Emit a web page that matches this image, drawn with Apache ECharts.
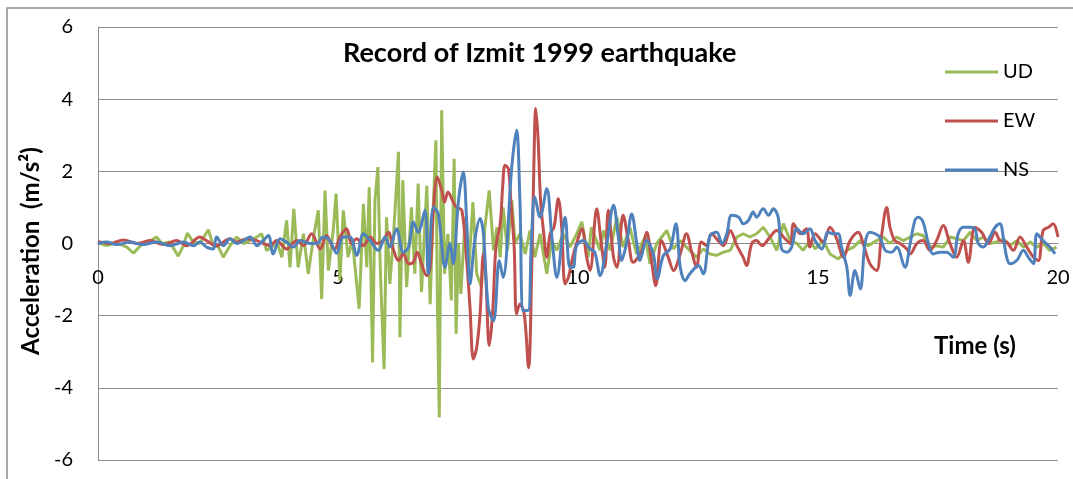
<!DOCTYPE html>
<html>
<head>
<meta charset="utf-8">
<script src="https://cdn.jsdelivr.net/npm/echarts@6/dist/echarts.min.js"></script>
<style>
  html, body { margin: 0; padding: 0; background: #fff; }
  #chart { width: 1073px; height: 479px; }
</style>
</head>
<body>
<div id="chart"></div>
<script>
// Izmit 1999 ground acceleration, three components: [time (s), acceleration (m/s²)]
const seriesNames = ['UD', 'EW', 'NS'];
const seriesColors = ['#9bbb59', '#c0504d', '#4f81bd'];

const udTrace = [
  [0,0.02],[0.18,-0.06],[0.39,0.02],[0.6,-0.1],[0.74,-0.27],[0.88,-0.06],[1.05,0.04],[1.22,0.18],
  [1.33,0],[1.5,0.04],[1.67,-0.35],[1.78,-0.06],[1.86,0.29],[1.99,0.04],[2.12,0],[2.3,0.38],
  [2.4,-0.06],[2.51,-0.1],[2.61,-0.38],[2.75,-0.06],[2.89,0.18],[3.03,0],[3.17,0.08],[3.31,0.18],
  [3.41,0.27],[3.51,-0.19],[3.62,-0.1],[3.72,0.08],[3.83,-0.38],[3.93,0.64],[4.0,-0.66],[4.08,0.96],
  [4.17,-0.66],[4.28,0.27],[4.38,-0.84],[4.49,0.17],[4.59,0.92],[4.66,-1.54],[4.73,1.47],[4.8,-0.75],
  [4.9,0.36],[4.96,1.38],[5.04,-1.03],[5.11,0.92],[5.21,-0.38],[5.3,0.1],[5.44,-1.81],[5.53,1.1],
  [5.6,-0.66],[5.65,1.56],[5.72,-3.3],[5.77,1.19],[5.83,2.12],[5.88,-0.66],[5.96,-3.48],[6.01,0.73],
  [6.08,-1.12],[6.15,0.08],[6.26,2.54],[6.29,-2.6],[6.35,1.75],[6.43,-1.21],[6.53,1.0],[6.6,-0.84],
  [6.67,1.66],[6.74,-1.35],[6.85,1.6],[6.92,-1.68],[6.99,1.2],[7.04,2.86],[7.07,-1.58],[7.11,-4.82],
  [7.16,3.69],[7.22,-0.84],[7.29,0.27],[7.36,-1.58],[7.42,2.35],[7.46,-2.5],[7.51,0],[7.56,-1.4],
  [7.65,0.73],[7.72,-0.84],[7.81,1.15],[7.89,-0.84],[7.99,-1.21],[8.06,0.45],[8.15,1.47],[8.24,-0.19],
  [8.31,0.45],[8.38,-0.38],[8.44,1.0],[8.53,-0.19],[8.62,1.2],[8.69,0],[8.79,0.27],[8.9,-0.29],
  [9.0,0.36],[9.1,-0.38],[9.21,0.27],[9.35,-0.84],[9.45,0.08],[9.56,-0.19],[9.69,0.27],[9.83,-0.1],
  [9.95,0.2],[10.08,0.6],[10.21,-0.38],[10.28,0.45],[10.46,-0.19],[10.53,0.36],[10.67,-0.19],
  [10.81,0.73],[10.94,-0.1],[11.08,0.45],[11.22,-0.29],[11.4,0.18],[11.5,-0.56],[11.64,0],[11.85,0.36],
  [11.99,-0.15],[12.13,0.08],[12.26,-0.1],[12.47,-0.38],[12.61,-0.15],[12.75,-0.29],[12.89,-0.33],
  [13.03,-0.24],[13.17,-0.19],[13.31,0.18],[13.44,0.27],[13.58,0.18],[13.72,0.27],[13.86,0.45],
  [14.0,0.18],[14.14,-0.19],[14.28,0.55],[14.42,0.08],[14.56,0],[14.69,-0.19],[14.83,0.08],
  [14.94,-0.15],[15.11,0.08],[15.25,-0.29],[15.42,-0.43],[15.6,-0.19],[15.74,-0.1],[15.88,0.08],
  [16.05,-0.06],[16.22,0.08],[16.36,0.18],[16.5,0],[16.64,0.18],[16.78,0.08],[16.92,0.18],[17.06,0.27],
  [17.19,0.22],[17.33,-0.1],[17.47,-0.06],[17.61,-0.1],[17.75,0.18],[17.89,0.13],[18.03,0.08],
  [18.17,0.31],[18.31,0.08],[18.44,0.18],[18.58,0],[18.72,0.04],[18.86,0.13],[19.0,-0.06],[19.14,0.08],
  [19.28,-0.1],[19.42,0.04],[19.56,-0.1],[19.69,0],[19.83,-0.19],[19.97,-0.1]
];

const ewTrace = [
  [0,0.06],[0.25,0],[0.53,0.1],[0.81,0],[1.08,0.08],[1.36,-0.03],[1.64,0.08],[1.85,-0.06],
  [2.12,0.18],[2.26,0.08],[2.47,-0.06],[2.75,0.13],[2.89,0.04],[3.1,0.13],[3.31,0.08],[3.58,-0.06],
  [3.72,0.08],[3.93,-0.15],[4.14,0.08],[4.28,-0.06],[4.45,0.27],[4.63,-0.15],[4.76,0.22],[4.93,-0.17],
  [5.04,0.18],[5.18,0.41],[5.28,0],[5.39,0.13],[5.53,-0.06],[5.67,0.18],[5.81,0],[5.94,0.08],
  [6.05,0.31],[6.15,-0.15],[6.26,-0.47],[6.36,-0.29],[6.47,-0.56],[6.57,-0.52],[6.65,-0.24],
  [6.74,-0.56],[6.85,-0.89],[6.92,-0.66],[6.99,1.0],[7.07,1.84],[7.16,1.47],[7.22,1.15],[7.29,1.43],
  [7.4,1.15],[7.47,1.0],[7.58,0.92],[7.68,-0.47],[7.75,-1.77],[7.82,-3.2],[7.89,-2.88],[7.96,-1.95],
  [8.03,-0.29],[8.08,-0.94],[8.15,-2.83],[8.22,-1.95],[8.29,-0.1],[8.38,0.55],[8.43,1.56],[8.48,2.17],
  [8.55,2.07],[8.6,1.19],[8.67,-0.1],[8.72,-1.95],[8.79,-1.68],[8.88,-1.95],[8.97,-3.44],[9.03,-1.12],
  [9.08,2.12],[9.12,3.74],[9.17,2.86],[9.22,1.19],[9.28,0.36],[9.35,-0.38],[9.42,0.27],[9.5,0.45],
  [9.59,1.24],[9.66,0.45],[9.73,-1.12],[9.8,-0.94],[9.89,-0.38],[9.97,0],[10.08,0.41],[10.18,-0.38],
  [10.25,-0.75],[10.39,0.96],[10.49,-0.06],[10.56,-0.66],[10.63,0.92],[10.74,-0.38],[10.81,-0.66],
  [10.94,0.78],[11.05,0.08],[11.15,-0.52],[11.33,-0.19],[11.43,0.31],[11.53,-0.47],[11.62,-1.17],
  [11.74,0.08],[11.88,-0.38],[11.99,-0.75],[12.13,-0.29],[12.26,0.27],[12.37,-0.24],[12.47,-0.66],
  [12.57,0.04],[12.68,-0.06],[12.78,0.27],[12.92,0.08],[13.03,-0.06],[13.17,0.36],[13.31,-0.06],
  [13.44,-0.38],[13.51,-0.61],[13.62,0],[13.72,0.08],[13.83,-0.06],[14.0,0.18],[14.14,0.36],
  [14.28,0.18],[14.42,0],[14.49,0.55],[14.63,0.27],[14.76,0.41],[14.83,-0.1],[14.94,0.27],
  [15.11,0.04],[15.25,0.45],[15.39,0.13],[15.53,-0.38],[15.67,0.08],[15.84,0.31],[15.94,0],
  [16.08,-0.56],[16.22,-0.75],[16.32,0.18],[16.43,1.0],[16.5,0.45],[16.6,0.08],[16.71,0],
  [16.85,-0.15],[16.92,-0.29],[17.06,0],[17.19,0.08],[17.33,-0.19],[17.47,0.08],[17.61,0.5],
  [17.75,0],[17.89,-0.38],[18.03,0.08],[18.13,-0.52],[18.27,0.45],[18.41,0.31],[18.55,0],
  [18.69,0.31],[18.79,0.08],[18.93,0.04],[19.07,-0.19],[19.21,0.18],[19.35,-0.1],[19.49,-0.38],
  [19.59,-0.47],[19.69,0.36],[19.8,0.45],[19.9,0.55],[20.0,0.18]
];

const nsTrace = [
  [0,0],[0.18,0.04],[0.39,-0.03],[0.67,0.04],[0.94,-0.03],[1.22,0.04],[1.5,-0.06],[1.78,0.04],
  [1.99,-0.06],[2.12,0.04],[2.26,-0.1],[2.4,-0.15],[2.47,0.18],[2.61,-0.06],[2.75,0.13],[2.89,0],
  [3.03,0.08],[3.17,0.18],[3.31,-0.06],[3.44,0.08],[3.55,0.22],[3.65,-0.29],[3.79,0.13],[3.93,0.04],
  [4.07,-0.1],[4.21,0.08],[4.42,0],[4.56,0],[4.69,0.18],[4.83,0.08],[4.97,-0.27],[5.11,0.18],
  [5.25,0.18],[5.39,-0.33],[5.53,0.27],[5.67,0.08],[5.84,-0.19],[5.98,0.18],[6.08,-0.1],[6.22,0.41],
  [6.36,-0.24],[6.47,-0.1],[6.57,0.59],[6.67,0.31],[6.81,0.92],[6.88,-0.84],[6.99,1.01],[7.09,0.82],
  [7.23,-0.66],[7.33,0],[7.4,-0.56],[7.51,1.19],[7.61,1.98],[7.68,0.64],[7.75,-1.12],[7.85,0.08],
  [7.96,0.69],[8.03,0.27],[8.13,-1.77],[8.24,-2.14],[8.36,-0.47],[8.44,-0.94],[8.62,2.12],[8.72,3.14],
  [8.79,1.19],[8.86,-1.86],[8.96,-1.86],[9.03,0.08],[9.1,1.29],[9.21,0.73],[9.35,1.52],[9.45,0.27],
  [9.56,-0.94],[9.73,0.73],[9.83,-0.66],[9.9,-0.66],[9.97,-0.06],[10.11,0.08],[10.25,-0.15],
  [10.35,-0.24],[10.46,-0.89],[10.6,0],[10.74,1.06],[10.84,0.18],[10.91,-0.47],[11.01,0],[11.12,0.82],
  [11.22,0.04],[11.29,-0.47],[11.43,0.08],[11.57,-0.29],[11.65,-0.98],[11.78,-0.33],[11.92,-0.15],
  [12.04,0.55],[12.13,-0.66],[12.23,-1.03],[12.33,-0.84],[12.51,-0.61],[12.61,-0.84],[12.75,0.22],
  [12.89,0.31],[13.0,0],[13.1,0.27],[13.2,0.78],[13.35,0.73],[13.44,0.55],[13.55,0.64],[13.65,0.87],
  [13.72,0.73],[13.86,0.96],[13.97,0.78],[14.07,0.96],[14.17,0.73],[14.24,-0.15],[14.35,-0.24],
  [14.45,-0.1],[14.56,0.41],[14.69,0.27],[14.83,0.41],[14.94,0.08],[15.08,-0.15],[15.21,0.31],
  [15.32,0.27],[15.42,0.27],[15.49,-0.1],[15.6,-0.66],[15.67,-1.44],[15.77,-0.75],[15.88,-1.26],
  [15.98,0],[16.08,0.31],[16.19,0.27],[16.29,0.18],[16.4,-0.19],[16.54,-0.24],[16.64,-0.1],
  [16.81,-0.66],[16.92,0],[17.02,0.64],[17.09,0.73],[17.19,0.59],[17.3,0],[17.4,-0.29],[17.54,-0.24],
  [17.68,-0.24],[17.82,-0.38],[17.92,0.27],[18.03,0.45],[18.17,0.45],[18.27,0.41],[18.34,0],
  [18.44,-0.1],[18.58,0.18],[18.69,0.45],[18.79,0.55],[18.86,0.18],[18.93,-0.38],[19.0,-0.56],
  [19.14,-0.47],[19.28,-0.19],[19.38,-0.38],[19.49,-0.56],[19.56,0.27],[19.69,0.08],[19.83,-0.1],
  [19.94,-0.29]
];

const traces = [udTrace, ewTrace, nsTrace];
// the smoother horizontal components are drawn with curve fitting, the vertical one stays jagged
const traceSmoothing = [0, 0.35, 0.35];
const xTicks = { min: 0, max: 20, step: 5 };
const yTicks = { min: -6, max: 6, step: 2 };

const font = 'Lato, "Open Sans", sans-serif';
const gridTop = 27, gridBottom = 19, chartHeight = 479;
const plotHeight = chartHeight - gridTop - gridBottom;
// lift the time axis from the bottom edge to the zero line of the acceleration axis
const zeroOffset = -plotHeight * (0 - yTicks.min) / (yTicks.max - yTicks.min);

const chart = echarts.init(document.getElementById('chart'), null, { renderer: 'canvas' });

chart.setOption({
  animation: false,
  backgroundColor: '#ffffff',
  title: {
    text: 'Record of Izmit 1999 earthquake',
    left: 338, top: 35,
    textStyle: { fontFamily: font, fontSize: 27, fontWeight: 'bold', color: '#000' }
  },
  legend: {
    orient: 'vertical',
    left: 945, top: 61, padding: 0,
    icon: 'rect',
    itemWidth: 53, itemHeight: 3, itemGap: 27,
    textStyle: { fontFamily: font, fontSize: 20, color: '#000', lineHeight: 22 },
    data: seriesNames
  },
  grid: { left: 98, right: 15, top: gridTop, bottom: gridBottom, containLabel: false, outerBoundsMode: 'none' },
  xAxis: {
    type: 'value',
    min: xTicks.min, max: xTicks.max, interval: xTicks.step,
    offset: zeroOffset,
    axisLine: { onZero: false, lineStyle: { color: '#8c8c8c', width: 1 } },
    axisTick: { show: false },
    splitLine: { show: false },
    axisLabel: { fontFamily: font, fontSize: 20, color: '#000', margin: 24 }
  },
  yAxis: {
    type: 'value',
    min: yTicks.min, max: yTicks.max, interval: yTicks.step,
    axisLine: { show: true, onZero: false, lineStyle: { color: '#8c8c8c', width: 1 } },
    axisTick: { show: false },
    splitLine: { lineStyle: { color: '#8c8c8c', width: 1 } },
    axisLabel: { fontFamily: font, fontSize: 20, color: '#000', margin: 25 }
  },
  graphic: [
    {
      type: 'rect', silent: true, z: -1,
      shape: { x: 7, y: 8, width: 1200, height: 700 },
      style: { fill: 'none', stroke: '#8c8c8c', lineWidth: 1.5 }
    },
    {
      type: 'text', x: 31, y: 251, rotation: Math.PI / 2,
      style: {
        text: 'Acceleration  (m/s²)', fontFamily: font, fontSize: 24, fontWeight: 'bold',
        fill: '#000', textAlign: 'center', textVerticalAlign: 'middle'
      }
    },
    {
      type: 'text', left: 934, top: 334,
      style: { text: 'Time (s)', fontFamily: font, fontSize: 24, fontWeight: 'bold', fill: '#000' }
    }
  ],
  series: seriesNames.map((name, i) => ({
    name,
    type: 'line',
    data: traces[i],
    showSymbol: false,
    symbol: 'none',
    smooth: traceSmoothing[i],
    color: seriesColors[i],
    lineStyle: { width: 3, color: seriesColors[i] },
    z: 2 + i
  }))
});
</script>
</body>
</html>
